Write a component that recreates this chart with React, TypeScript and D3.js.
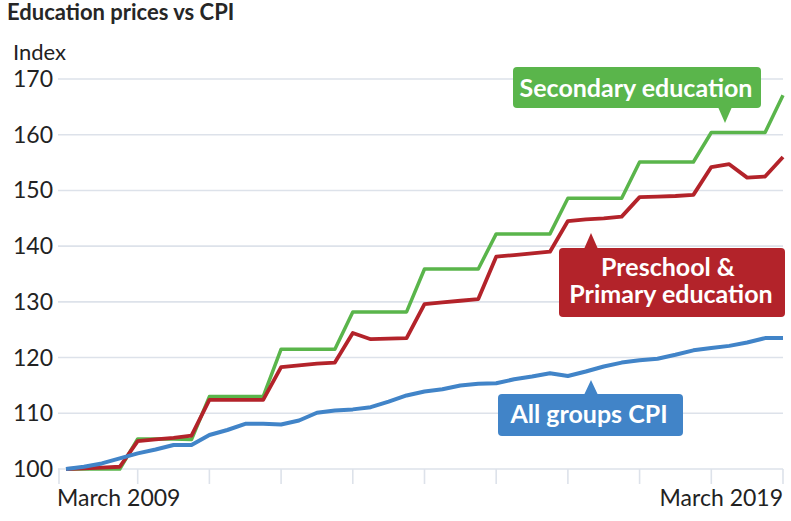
import React from 'react';
import * as d3 from 'd3';

// quarterly series, March 2009 = 100
const years = d3.range(2009, 2020);
const months = ['March', 'June', 'September', 'December'];
const quarters: string[] = years.flatMap((y) => months.map((m) => `${m} ${y}`)).slice(0, 41);

const secondary = [
  100, 100, 100, 100, 105.4, 105.4, 105.4, 105.3, 113.0, 113.0, 113.0, 113.0,
  121.5, 121.5, 121.5, 121.5, 128.2, 128.2, 128.2, 128.2, 135.9, 135.9, 135.9, 135.9,
  142.2, 142.2, 142.2, 142.2, 148.6, 148.6, 148.6, 148.6, 155.1, 155.1, 155.1, 155.1,
  160.4, 160.4, 160.4, 160.4, 167.1,
];
const preschool = [
  100, 100.1, 100.25, 100.4, 105.0, 105.3, 105.6, 106.0, 112.4, 112.4, 112.4, 112.4,
  118.3, 118.6, 118.9, 119.1, 124.4, 123.3, 123.4, 123.5, 129.6, 129.9, 130.2, 130.5,
  138.1, 138.4, 138.7, 139.0, 144.5, 144.8, 145.0, 145.3, 148.8, 148.9, 149.0, 149.2,
  154.2, 154.7, 152.3, 152.5, 156.0,
];
const cpi = [
  100, 100.4, 101.0, 101.9, 102.8, 103.5, 104.3, 104.3, 106.1, 107.0, 108.1, 108.1,
  108.0, 108.7, 110.1, 110.5, 110.7, 111.1, 112.1, 113.2, 113.9, 114.3, 115.0, 115.3,
  115.4, 116.1, 116.6, 117.2, 116.7, 117.5, 118.4, 119.1, 119.5, 119.8, 120.5, 121.3,
  121.7, 122.1, 122.7, 123.5, 123.5,
];

const yTicks = [100, 110, 120, 130, 140, 150, 160, 170];
const xLabels = ['March 2009', 'March 2019'];

const GREEN = '#5ab54b';
const RED = '#b3232a';
const BLUE = '#4184c8';
const GRID = '#dde2ea';
const FONT = 'Lato, "Open Sans", sans-serif';

const App: React.FC = () => {
  const width = 791;
  const height = 521;

  const x = d3.scalePoint<string>().domain(quarters).range([66, 783]);
  const y = d3.scaleLinear().domain([100, 170]).range([469, 79]);

  const line = d3
    .line<number>()
    .x((_, i) => x(quarters[i]) as number)
    .y((d) => y(d));

  const marchTicks = quarters.filter((_, i) => i % 4 === 0);

  const series = [
    { values: secondary, color: GREEN, w: 3.5 },
    { values: preschool, color: RED, w: 3.8 },
    { values: cpi, color: BLUE, w: 4 },
  ];

  return (
    <svg
      width={width}
      height={height}
      style={{ position: 'absolute', left: 0, top: 0, background: '#fff' }}
      fontFamily={FONT}
    >
      <text x={7} y={20} fontSize={22} fontWeight={700} fill="#262626">
        Education prices vs CPI
      </text>
      <text x={13} y={60} fontSize={22} fill="#222">
        Index
      </text>

      {/* grid */}
      {yTicks.map((t) => (
        <g key={t}>
          <line x1={58} x2={783} y1={y(t)} y2={y(t)} stroke={GRID} strokeWidth={1.6} />
          <text x={13} y={y(t) + 8} fontSize={23} fill="#222">
            {t}
          </text>
        </g>
      ))}
      {marchTicks.map((q, i) => {
        const px = i === 0 ? 59 : (x(q) as number);
        return (
          <line key={q} x1={px} x2={px} y1={469} y2={484} stroke={GRID} strokeWidth={1.6} />
        );
      })}
      <text x={57} y={506} fontSize={23} fill="#222">
        {xLabels[0]}
      </text>
      <text x={783} y={506} fontSize={23} fill="#222" textAnchor="end">
        {xLabels[1]}
      </text>

      {series.map((s) => (
        <path
          key={s.color}
          d={line(s.values) ?? ''}
          fill="none"
          stroke={s.color}
          strokeWidth={s.w}
          strokeLinejoin="round"
        />
      ))}

      {/* Secondary label */}
      <rect x={513} y={67} width={248} height={41} rx={4} fill={GREEN} />
      <polygon points="718,107 732,107 725,123" fill={GREEN} />
      <text x={636} y={97} fontSize={25} fontWeight={700} fill="#fff" textAnchor="middle">
        Secondary education
      </text>

      {/* Preschool label */}
      <rect x={559} y={248} width={226} height={69} rx={4} fill={RED} />
      <polygon points="584,249 598,249 591,233" fill={RED} />
      <text x={668} y={276} fontSize={25} fontWeight={700} fill="#fff" textAnchor="middle">
        Preschool &amp;
      </text>
      <text x={671} y={303} fontSize={25} fontWeight={700} fill="#fff" textAnchor="middle">
        Primary education
      </text>

      {/* CPI label */}
      <rect x={498} y={394} width={185} height={42} rx={4} fill={BLUE} />
      <polygon points="584,395 598,395 591,380" fill={BLUE} />
      <text x={589} y={423} fontSize={25} fontWeight={700} fill="#fff" textAnchor="middle">
        All groups CPI
      </text>
    </svg>
  );
};

export default App;
